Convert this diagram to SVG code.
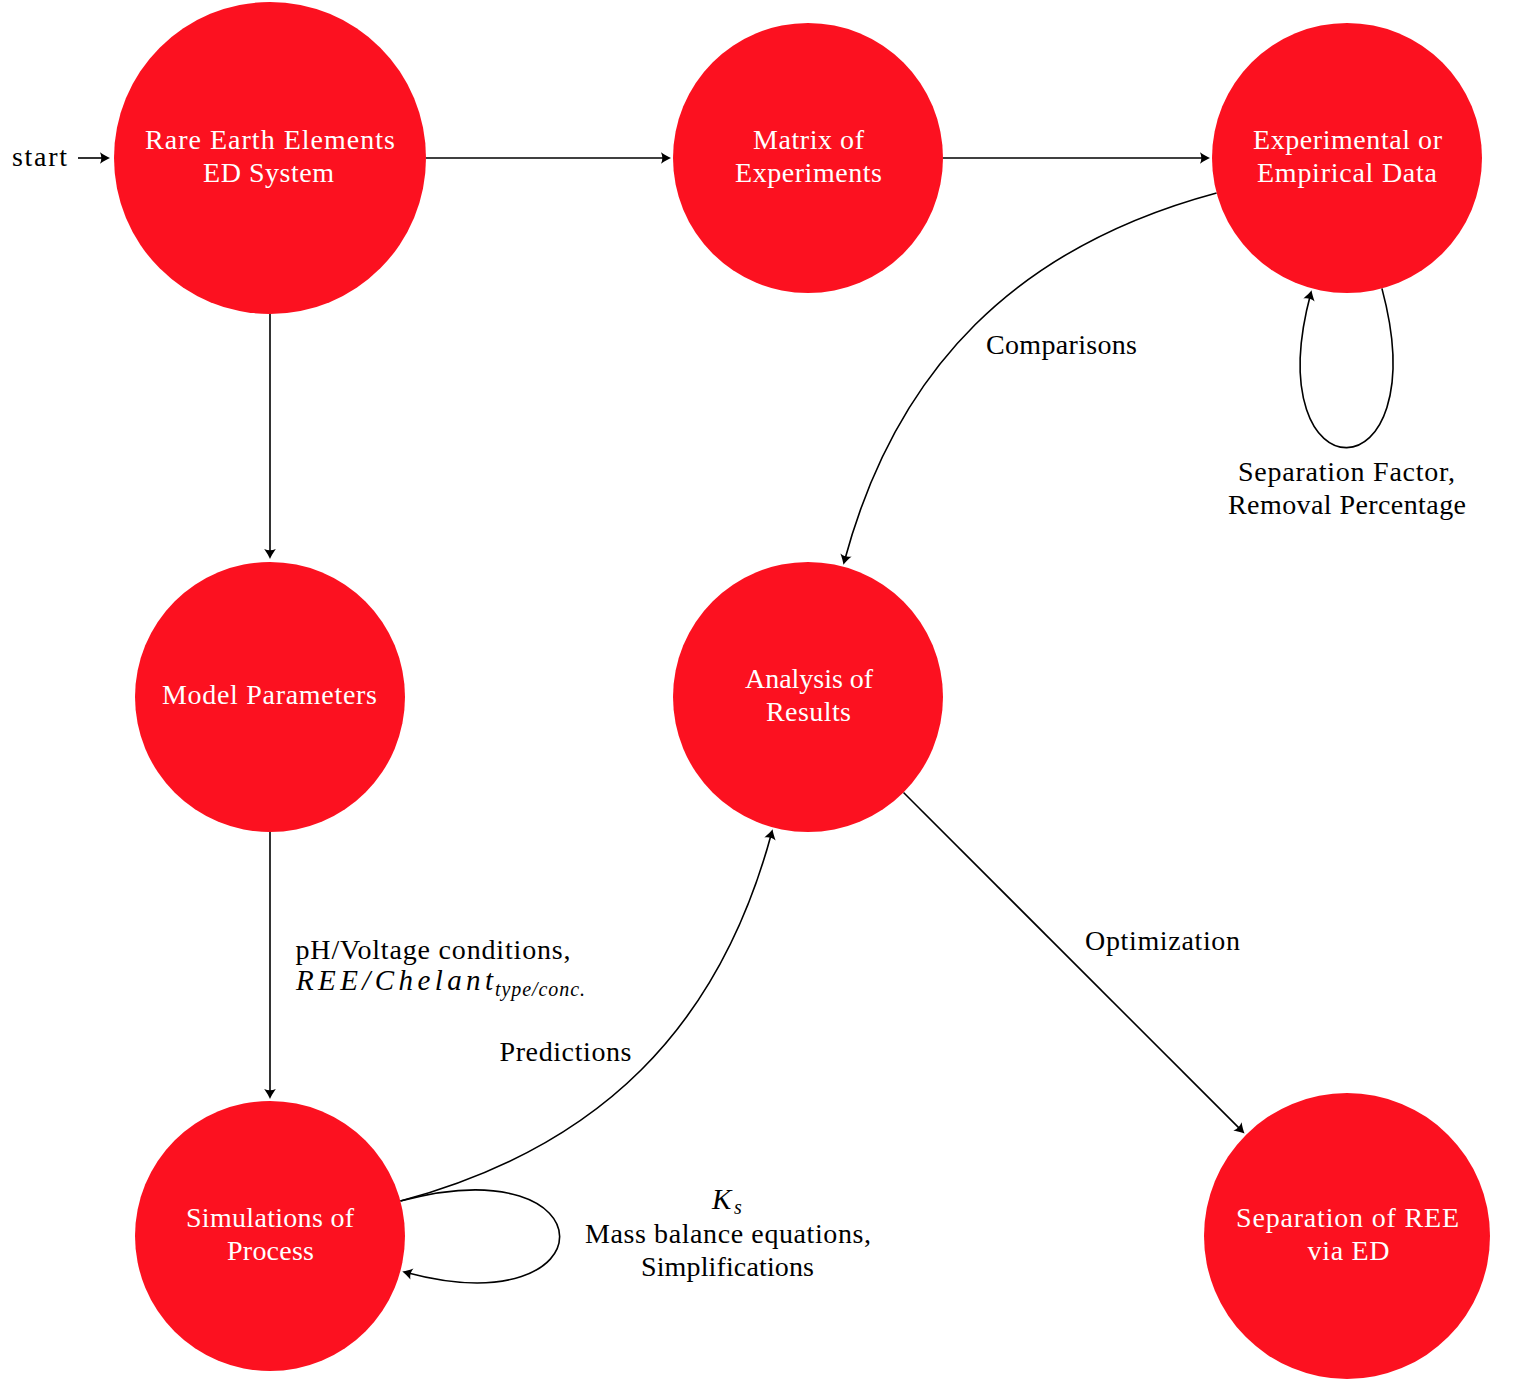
<svg xmlns="http://www.w3.org/2000/svg" width="1518" height="1386" viewBox="0 0 1518 1386">
  <style>
    .node { fill: #fc1120; }
    .ntext { font-family: "Liberation Serif", "Times New Roman", serif; font-size: 28px; fill: #ffffff; text-anchor: middle; }
    .ltext { font-family: "Liberation Serif", "Times New Roman", serif; font-size: 28px; fill: #000000; text-anchor: middle; }
    .math { font-family: "Liberation Serif", "Times New Roman", serif; font-style: italic; fill: #000000; }
    .edge { fill: none; stroke: #000000; stroke-width: 1.6; marker-end: url(#tip); }
  </style>
  <defs>
    <marker id="tip" markerUnits="userSpaceOnUse" viewBox="-12 -7 16 14" refX="-3" refY="0" markerWidth="16" markerHeight="14" orient="auto">
      <path d="M0,0 C-2.5,-1 -6,-3 -10,-5.8 C-8.2,-2 -8.2,2 -10,5.8 C-6,3 -2.5,1 0,0 Z" fill="#000000"/>
    </marker>
  </defs>
  <rect width="1518" height="1386" fill="#ffffff"/>

  <!-- connectors -->
  <g id="connectors">
    <path class="edge" d="M78,158 L107,158"/>
    <path class="edge" d="M426,158 L668,158"/>
    <path class="edge" d="M943,158 L1207,158"/>
    <path class="edge" d="M270,314 L270,556"/>
    <path class="edge" d="M270,832 L270,1096"/>
    <path class="edge" d="M1216.6,192.9 C1017.6,246.3 896.2,367.6 844.2,561.8"/>
    <path class="edge" d="M1381.9,288.4 C1438.6,499.9 1255.4,499.9 1310.8,293.2"/>
    <path class="edge" d="M400.4,1201.1 C600,1147.5 719.5,1027.4 771.8,832.2"/>
    <path class="edge" d="M400.4,1201.1 C611.9,1144.4 611.9,1327.6 405.2,1272.2"/>
    <path class="edge" d="M903.5,792.5 L1242.4,1131.4"/>
  </g>

  <!-- edge labels -->
  <g id="labels">
    <text class="ltext" x="39.5" y="166" textLength="55" lengthAdjust="spacing">start</text>
    <text class="ltext" x="1061.5" y="354" textLength="151" lengthAdjust="spacing">Comparisons</text>
    <text class="ltext" x="1346.5" y="481" textLength="217" lengthAdjust="spacing">Separation Factor,</text>
    <text class="ltext" x="1347" y="514" textLength="238" lengthAdjust="spacing">Removal Percentage</text>
    <text class="ltext" x="433" y="959" textLength="275" lengthAdjust="spacing">pH/Voltage conditions,</text>
    <text class="math" x="296" y="990" font-size="29" textLength="197" lengthAdjust="spacing">REE/Chelant</text>
    <text class="math" x="495" y="996" font-size="20" textLength="90" lengthAdjust="spacing">type/conc.</text>
    <text class="ltext" x="565.5" y="1061" textLength="132" lengthAdjust="spacing">Predictions</text>
    <text class="ltext" x="1162.5" y="950" textLength="155" lengthAdjust="spacing">Optimization</text>
    <text class="math" x="712" y="1209" font-size="29">K</text>
    <text class="math" x="734" y="1214" font-size="20">s</text>
    <text class="ltext" x="728" y="1243" textLength="286" lengthAdjust="spacing">Mass balance equations,</text>
    <text class="ltext" x="727.5" y="1276" textLength="173" lengthAdjust="spacing">Simplifications</text>
  </g>

  <!-- states -->
  <g id="ree-system">
    <circle class="node" cx="270" cy="158" r="156"/>
    <text class="ntext" x="270" y="148.5" textLength="250" lengthAdjust="spacing">Rare Earth Elements</text>
    <text class="ntext" x="268.5" y="182" textLength="131" lengthAdjust="spacing">ED System</text>
  </g>
  <g id="matrix">
    <circle class="node" cx="808" cy="158" r="135"/>
    <text class="ntext" x="808.5" y="148.5" textLength="111" lengthAdjust="spacing">Matrix of</text>
    <text class="ntext" x="808.5" y="182" textLength="147" lengthAdjust="spacing">Experiments</text>
  </g>
  <g id="data">
    <circle class="node" cx="1347" cy="158" r="135"/>
    <text class="ntext" x="1347.5" y="148.5" textLength="189" lengthAdjust="spacing">Experimental or</text>
    <text class="ntext" x="1347" y="182" textLength="180" lengthAdjust="spacing">Empirical Data</text>
  </g>
  <g id="model-parameters">
    <circle class="node" cx="270" cy="697" r="135"/>
    <text class="ntext" x="269.5" y="704" textLength="215" lengthAdjust="spacing">Model Parameters</text>
  </g>
  <g id="analysis">
    <circle class="node" cx="808" cy="697" r="135"/>
    <text class="ntext" x="809" y="687.5" textLength="128" lengthAdjust="spacing">Analysis of</text>
    <text class="ntext" x="808.5" y="721" textLength="85" lengthAdjust="spacing">Results</text>
  </g>
  <g id="simulations">
    <circle class="node" cx="270" cy="1236" r="135"/>
    <text class="ntext" x="270" y="1226.5" textLength="168" lengthAdjust="spacing">Simulations of</text>
    <text class="ntext" x="270.5" y="1260" textLength="87" lengthAdjust="spacing">Process</text>
  </g>
  <g id="separation">
    <circle class="node" cx="1347" cy="1236" r="143"/>
    <text class="ntext" x="1347.5" y="1226.5" textLength="223" lengthAdjust="spacing">Separation of REE</text>
    <text class="ntext" x="1348.5" y="1260" textLength="82" lengthAdjust="spacing">via ED</text>
  </g>
</svg>
